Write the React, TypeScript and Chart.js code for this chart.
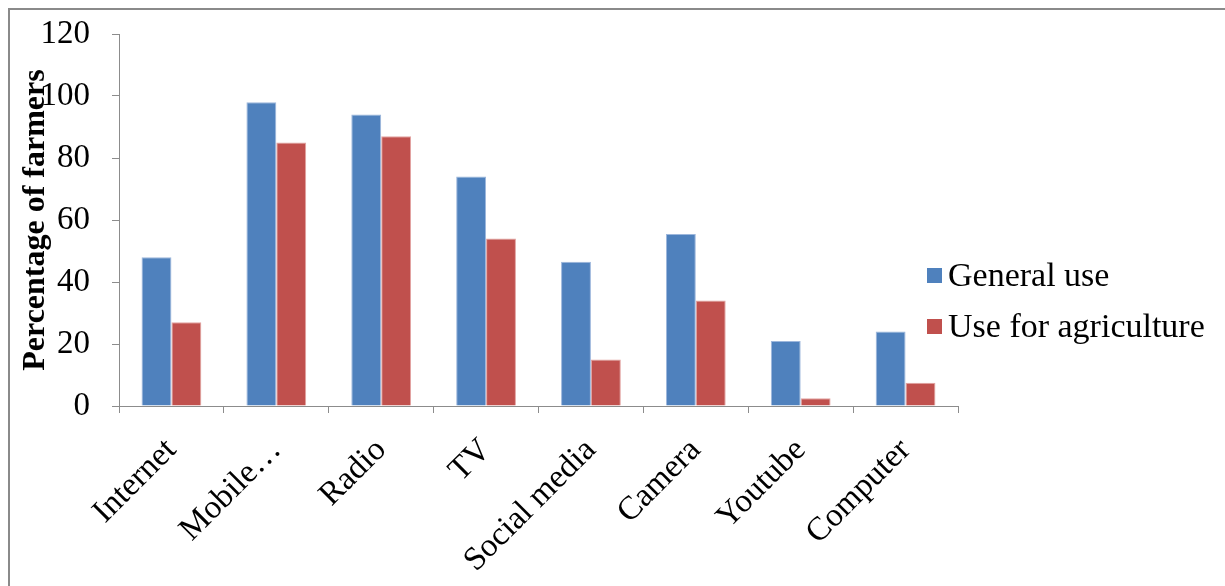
import React, { useEffect, useRef } from "react";
import { Chart, registerables } from "chart.js";

Chart.register(...registerables);

const categories = ["Internet", "Mobile…", "Radio", "TV", "Social media", "Camera", "Youtube", "Computer"];
const generalUse = [48, 98, 94, 74, 46.5, 55.5, 21, 24];
const agricultureUse = [27, 85, 87, 54, 15, 34, 2.5, 7.5];
const seriesNames = ["General use", "Use for agriculture"];
const seriesColors = ["#4F81BD", "#C0504D"];
const seriesEdges = ["#9DB7DC", "#E2A3A1"];
const yTitle = "Percentage of farmers";

const SERIF = '"Liberation Serif", "Times New Roman", serif';
const AXIS_GREY = "#8C8C8C";

export default function App() {
  const canvasRef = useRef<HTMLCanvasElement | null>(null);

  useEffect(() => {
    const canvas = canvasRef.current;
    if (!canvas) return;
    const chart = new Chart(canvas, {
      type: "bar",
      data: {
        labels: categories,
        datasets: [
          {
            label: seriesNames[0],
            data: generalUse,
            backgroundColor: seriesColors[0],
            borderColor: seriesEdges[0],
            borderWidth: 1,
          },
          {
            label: seriesNames[1],
            data: agricultureUse,
            backgroundColor: seriesColors[1],
            borderColor: seriesEdges[1],
            borderWidth: 1,
          },
        ],
      },
      options: {
        responsive: false,
        animation: false,
        devicePixelRatio: 1,
        layout: { padding: { top: 34, right: 267, bottom: 0, left: 0 } },
        datasets: {
          bar: { categoryPercentage: 0.57, barPercentage: 1 },
        },
        plugins: {
          legend: { display: false },
          tooltip: { enabled: false },
        },
        scales: {
          x: {
            grid: {
              display: true,
              drawOnChartArea: false,
              offset: true,
              tickLength: 7,
              color: AXIS_GREY,
            },
            border: { display: true, color: AXIS_GREY, width: 1 },
            ticks: {
              color: "#000",
              font: { family: SERIF, size: 33 },
              minRotation: 45,
              maxRotation: 45,
              autoSkip: false,
              padding: 18,
            },
            afterFit: (scale: any) => {
              scale.height = 180;
              scale.paddingLeft = 0;
              scale.paddingRight = 0;
            },
          },
          y: {
            min: 0,
            max: 120,
            ticks: {
              stepSize: 20,
              color: "#000",
              font: { family: SERIF, size: 33 },
              padding: 22,
            },
            grid: {
              display: true,
              drawOnChartArea: false,
              tickLength: 7,
              color: AXIS_GREY,
            },
            border: { display: true, color: AXIS_GREY, width: 1 },
            title: {
              display: true,
              text: yTitle,
              color: "#000",
              font: { family: SERIF, size: 32, weight: "bold" },
              padding: { top: 17, bottom: 0 },
            },
            afterFit: (scale: any) => {
              scale.width = 119;
              scale.paddingTop = 0;
              scale.paddingBottom = 0;
            },
          },
        },
      },
    });
    return () => chart.destroy();
  }, []);

  const legendRow = (i: number, top: number) => (
    <div
      key={i}
      style={{
        position: "absolute",
        left: 927,
        top,
        height: 38,
        display: "flex",
        alignItems: "center",
        whiteSpace: "nowrap",
      }}
    >
      <span
        style={{
          display: "inline-block",
          width: 15,
          height: 15,
          background: seriesColors[i],
          marginRight: 6,
        }}
      />
      <span style={{ fontFamily: SERIF, fontSize: 34, color: "#000", lineHeight: "38px" }}>
        {seriesNames[i]}
      </span>
    </div>
  );

  return (
    <div
      style={{
        position: "fixed",
        left: 0,
        top: 0,
        width: 1225,
        height: 586,
        background: "#fff",
        overflow: "hidden",
      }}
    >
      <div
        style={{
          position: "absolute",
          left: 8,
          top: 8,
          width: 1300,
          height: 700,
          borderTop: "2px solid #8A8A8A",
          borderLeft: "2px solid #8A8A8A",
        }}
      />
      <canvas
        ref={canvasRef}
        width={1225}
        height={586}
        style={{ position: "absolute", left: 0, top: 0, width: 1225, height: 586 }}
      />
      {legendRow(0, 256)}
      {legendRow(1, 307)}
    </div>
  );
}
